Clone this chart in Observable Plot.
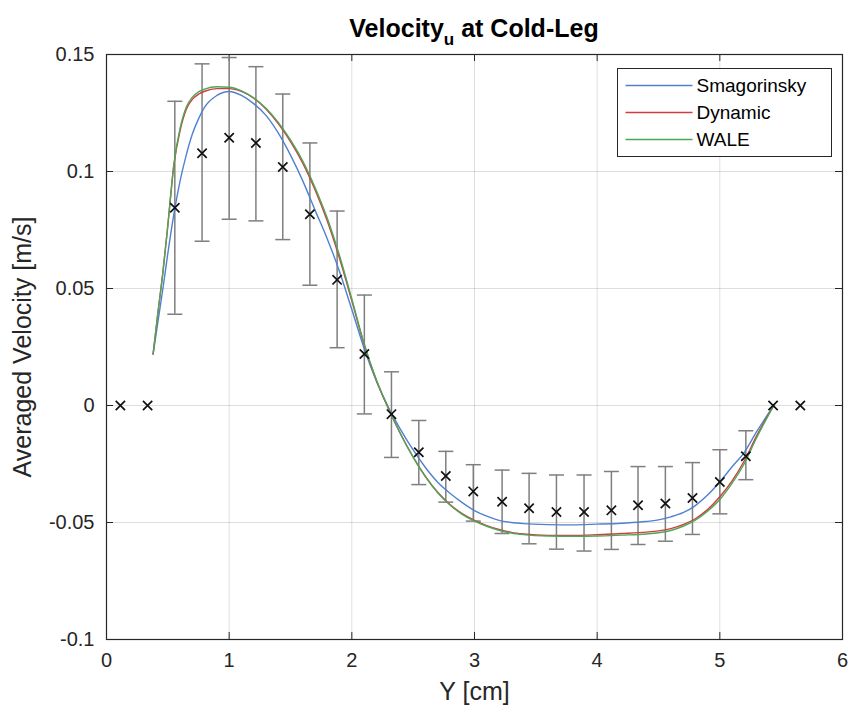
<!DOCTYPE html>
<html>
<head>
<meta charset="utf-8">
<script src="https://cdn.jsdelivr.net/npm/d3@7"></script>
<script src="https://cdn.jsdelivr.net/npm/@observablehq/plot@0.6"></script>
<style>
  html, body { margin: 0; padding: 0; background: #fff; }
  #chart { width: 849px; height: 706px; }
</style>
</head>
<body>
<div id="chart"></div>
<script>
// ---------- data ----------
const models = ["Smagorinsky", "Dynamic", "WALE"];
const modelColors = ["#4f81d1", "#d13c3c", "#4ea65a"];

const simX = [0.38, 0.42, 0.46, 0.50, 0.55, 0.60, 0.65, 0.70, 0.75, 0.80, 0.90, 1.00, 1.10, 1.20, 1.30, 1.40, 1.50, 1.60, 1.70, 1.80, 1.90, 2.00, 2.10, 2.20, 2.30, 2.40, 2.50, 2.60, 2.70, 2.80, 2.90, 3.00, 3.10, 3.20, 3.30, 3.40, 3.60, 3.80, 4.00, 4.20, 4.40, 4.50, 4.60, 4.70, 4.80, 4.90, 5.00, 5.10, 5.20, 5.30, 5.44];

const smagorinsky = [0.022, 0.036, 0.050, 0.065, 0.082, 0.096, 0.107, 0.116, 0.1225, 0.1275, 0.1325, 0.1342, 0.1325, 0.1290, 0.1240, 0.1165, 0.1070, 0.0960, 0.0835, 0.0712, 0.0572, 0.0410, 0.0245, 0.0105, -0.0010, -0.0105, -0.0190, -0.0265, -0.0328, -0.0375, -0.0415, -0.0449, -0.0473, -0.0491, -0.0500, -0.0505, -0.0509, -0.0510, -0.0507, -0.0503, -0.0496, -0.0489, -0.0476, -0.0458, -0.0428, -0.0383, -0.0326, -0.0262, -0.0200, -0.0112, 0];

const dynamic = [0.022, 0.040, 0.057, 0.077, 0.103, 0.1175, 0.1265, 0.1308, 0.1330, 0.1343, 0.1354, 0.1354, 0.1342, 0.1313, 0.1267, 0.1205, 0.1128, 0.1036, 0.0922, 0.0788, 0.0628, 0.0447, 0.0260, 0.0107, -0.0015, -0.0124, -0.0220, -0.0303, -0.0371, -0.0423, -0.0462, -0.0491, -0.0513, -0.0530, -0.0542, -0.0549, -0.0555, -0.0555, -0.0552, -0.0547, -0.0541, -0.0536, -0.0526, -0.0509, -0.0484, -0.0445, -0.0390, -0.0322, -0.0236, -0.0130, 0];

const wale = [0.022, 0.040, 0.057, 0.077, 0.1035, 0.1185, 0.1275, 0.1318, 0.1340, 0.1352, 0.1362, 0.1360, 0.1345, 0.1315, 0.1270, 0.1210, 0.1135, 0.1045, 0.0932, 0.0800, 0.0640, 0.0455, 0.0265, 0.0110, -0.0015, -0.0125, -0.0222, -0.0305, -0.0373, -0.0425, -0.0465, -0.0494, -0.0516, -0.0533, -0.0545, -0.0552, -0.0558, -0.0559, -0.0558, -0.0554, -0.0549, -0.0544, -0.0534, -0.0516, -0.0490, -0.0452, -0.0402, -0.0332, -0.0248, -0.0138, 0];

// experimental points (mean and error-bar limits)
const expX = [0.113, 0.335, 0.557, 0.779, 1.000, 1.218, 1.437, 1.658, 1.880, 2.102, 2.323, 2.546, 2.766, 2.990, 3.225, 3.445, 3.668, 3.893, 4.116, 4.333, 4.556, 4.777, 5.000, 5.212, 5.434, 5.656];
const expMean = [0, 0, 0.0845, 0.1078, 0.1144, 0.1122, 0.1019, 0.0817, 0.0537, 0.0220, -0.0037, -0.0200, -0.0301, -0.0367, -0.0411, -0.0439, -0.0455, -0.0455, -0.0448, -0.0426, -0.0419, -0.0395, -0.0327, -0.0217, 0, 0];
const expHi = [null, null, 0.1300, 0.1460, 0.1487, 0.1448, 0.1331, 0.1122, 0.0831, 0.0472, 0.0144, -0.0064, -0.0196, -0.0253, -0.0276, -0.0290, -0.0297, -0.0297, -0.0282, -0.0261, -0.0261, -0.0244, -0.0189, -0.0108, null, null];
const expLo = [null, null, 0.0390, 0.0702, 0.0796, 0.0789, 0.0709, 0.0514, 0.0247, -0.0036, -0.0222, -0.0338, -0.0413, -0.0494, -0.0547, -0.0591, -0.0614, -0.0622, -0.0615, -0.0594, -0.0580, -0.0551, -0.0463, -0.0317, null, null];

const xTicks = [0, 1, 2, 3, 4, 5, 6];
const yTicks = [-0.1, -0.05, 0, 0.05, 0.1, 0.15];

const titleMain = "Velocity";
const titleSub = "u";
const titleRest = " at Cold-Leg";
const xLabel = "Y [cm]";
const yLabel = "Averaged Velocity [m/s]";

// ---------- tables built from the arrays ----------
const seriesValues = [smagorinsky, dynamic, wale];
const simRows = models.flatMap((m, k) => simX.map((x, i) => ({model: m, x, y: seriesValues[k][i]})));
const expRows = expX.map((x, i) => ({x, y: expMean[i], hi: expHi[i], lo: expLo[i]}));
const errRows = expRows.filter(d => d.hi != null);

const capSymbol = {
  draw(context) {
    context.moveTo(-7.5, 0);
    context.lineTo(7.5, 0);
  }
};

const W = 849, H = 706;
const mT = 54, mB = 67, mL = 106, mR = 7;
const frameW = W - mL - mR, frameH = H - mT - mB;
const tickLen = 7;
const textColor = "#262626";

const chart = Plot.plot({
  width: W,
  height: H,
  marginTop: mT,
  marginBottom: mB,
  marginLeft: mL,
  marginRight: mR,
  style: {fontFamily: "'Liberation Sans', Arial, Helvetica, sans-serif", fontSize: "20px", color: textColor, background: "#fff", overflow: "visible"},
  x: {domain: [0, 6]},
  y: {domain: [-0.1, 0.15]},
  color: {domain: models, range: modelColors},
  marks: [
    Plot.gridX({ticks: xTicks, stroke: "#000", strokeOpacity: 0.13, strokeWidth: 1}),
    Plot.gridY({ticks: yTicks, stroke: "#000", strokeOpacity: 0.13, strokeWidth: 1}),
    Plot.axisX({ticks: xTicks, tickSize: 0, tickPadding: 13, fontSize: 20, label: null, tickFormat: d => String(d), fill: textColor}),
    Plot.axisY({ticks: yTicks, tickSize: 0, tickPadding: 12, fontSize: 20, label: null, tickFormat: d => String(d), fill: textColor}),
    // inward tick marks (MATLAB style box axes)
    Plot.tickX(xTicks, {x: d => d, insetTop: frameH - tickLen, stroke: textColor}),
    Plot.tickX(xTicks, {x: d => d, insetBottom: frameH - tickLen, stroke: textColor}),
    Plot.tickY(yTicks, {y: d => d, insetRight: frameW - tickLen, stroke: textColor}),
    Plot.tickY(yTicks, {y: d => d, insetLeft: frameW - tickLen, stroke: textColor}),
    // error bars
    Plot.ruleX(errRows, {x: "x", y1: "lo", y2: "hi", stroke: "#7f7f7f", strokeWidth: 1.5}),
    Plot.dot(errRows, {x: "x", y: "hi", symbol: capSymbol, fill: "none", stroke: "#7f7f7f", strokeWidth: 1.5}),
    Plot.dot(errRows, {x: "x", y: "lo", symbol: capSymbol, fill: "none", stroke: "#7f7f7f", strokeWidth: 1.5}),
    // simulation lines
    Plot.line(simRows, {x: "x", y: "y", z: "model", stroke: "model", strokeWidth: 1.4, curve: "monotone-x"}),
    // experimental markers
    Plot.dot(expRows, {x: "x", y: "y", symbol: "times", r: 4.3, stroke: "#111", strokeWidth: 1.7}),
    Plot.frame({stroke: textColor, strokeWidth: 1.2}),
    Plot.text([xLabel], {text: d => d, frameAnchor: "bottom", lineAnchor: "middle", textAnchor: "middle", dy: 52, fontSize: 25, fill: textColor}),
    Plot.text([yLabel], {text: d => d, frameAnchor: "left", textAnchor: "middle", lineAnchor: "middle", rotate: -90, dx: -84, fontSize: 25, fill: textColor})
  ]
});

document.getElementById("chart").appendChild(chart);

// ---------- title with subscript ----------
const xs = chart.scale("x");
const svg = d3.select(chart);
const cx = (xs.apply(0) + xs.apply(6)) / 2;
const title = svg.append("text")
  .attr("x", cx)
  .attr("y", 37)
  .attr("text-anchor", "middle")
  .attr("font-weight", "bold")
  .attr("font-size", 25)
  .attr("fill", "#000")
  .style("white-space", "pre");
title.append("tspan").text(titleMain);
title.append("tspan").attr("font-size", 17).attr("dy", 8).text(titleSub);
title.append("tspan").attr("dy", -8).text(titleRest);

// ---------- legend box ----------
const lg = svg.append("g").attr("transform", "translate(617.5,68.5)");
lg.append("rect").attr("width", 214).attr("height", 88).attr("fill", "#fff").attr("stroke", textColor).attr("stroke-width", 1);
models.forEach((m, i) => {
  const y = 17 + i * 27;
  lg.append("line").attr("x1", 8).attr("x2", 75).attr("y1", y).attr("y2", y)
    .attr("stroke", modelColors[i]).attr("stroke-width", 1.4);
  lg.append("text").attr("x", 79).attr("y", y).attr("dy", "0.35em")
    .attr("text-anchor", "start")
    .attr("font-size", 19).attr("fill", "#000").text(m);
});
</script>
</body>
</html>
